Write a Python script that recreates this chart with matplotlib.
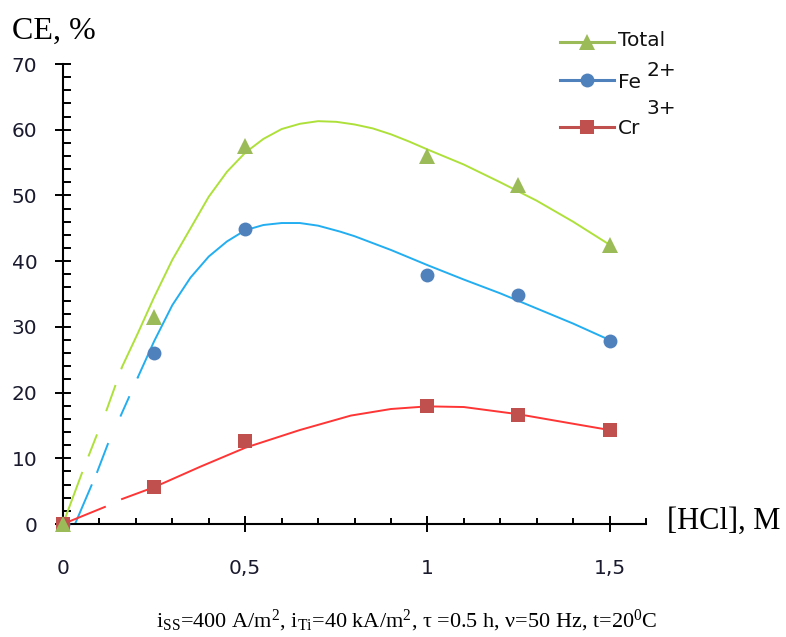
import numpy as np
import matplotlib
matplotlib.use("Agg")
import matplotlib.pyplot as plt
from matplotlib.lines import Line2D
from matplotlib.ticker import MultipleLocator, FixedLocator, FixedFormatter

plt.rcParams['font.family'] = ['DejaVu Sans']
plt.rcParams['mathtext.fontset'] = 'custom'
plt.rcParams['mathtext.rm'] = 'Liberation Serif'
plt.rcParams['mathtext.it'] = 'Liberation Serif:italic'
plt.rcParams['lines.scale_dashes'] = False

# measured points
hcl = [0, 0.25, 0.5, 1.0, 1.25, 1.5]
ce_total = [0, 31.5, 57.5, 56.0, 51.6, 42.5]
ce_fe = [0, 26.0, 44.9, 37.9, 34.9, 27.9]
ce_cr = [0, 5.6, 12.6, 18.0, 16.6, 14.3]

# trend lines (dashed lead-in + solid part)
total_lead_x = [0, 0.055, 0.12, 0.162]
total_lead_y = [0, 8.2, 17.4, 23.9]
total_x = [0.162, 0.206, 0.25, 0.3, 0.35, 0.4, 0.45, 0.5, 0.55, 0.6, 0.65, 0.7, 0.75,
           0.8, 0.85, 0.9, 0.95, 1.0, 1.1, 1.2, 1.3, 1.4, 1.5]
total_y = [23.9, 29.1, 34.5, 40.2, 45.0, 49.8, 53.6, 56.5, 58.6, 60.1, 60.9, 61.3, 61.2,
           60.8, 60.2, 59.3, 58.2, 57.0, 54.7, 52.0, 49.2, 46.0, 42.5]

fe_lead_x = [0.033, 0.093, 0.124, 0.157, 0.206]
fe_lead_y = [0, 7.8, 12.3, 16.3, 22.4]
fe_x = [0.206, 0.25, 0.3, 0.35, 0.4, 0.45, 0.5, 0.55, 0.6, 0.65, 0.7, 0.76, 0.8, 0.9,
        1.0, 1.1, 1.2, 1.3, 1.4, 1.5]
fe_y = [22.4, 27.8, 33.3, 37.5, 40.7, 43.0, 44.7, 45.5, 45.8, 45.8, 45.4, 44.5, 43.8, 41.7,
        39.4, 37.2, 35.1, 32.8, 30.5, 28.0]

cr_lead_x = [0, 0.115]
cr_lead_y = [0, 2.6]
cr_x = [0.162, 0.25, 0.376, 0.5, 0.65, 0.79, 0.9, 1.0, 1.1, 1.25, 1.385, 1.5]
cr_y = [3.8, 5.6, 8.7, 11.6, 14.3, 16.5, 17.5, 17.9, 17.8, 16.7, 15.4, 14.3]

x_ticks = [0, 0.5, 1.0, 1.5]
x_tick_labels = ['0', '0,5', '1', '1,5']
y_ticks = [0, 10, 20, 30, 40, 50, 60, 70]

W, H = 786, 637
fig = plt.figure(figsize=(W / 100, H / 100), dpi=100)


def px(x, y):
    return x / W, 1 - y / H


ax = fig.add_axes([63 / W, 1 - 524 / H, (646 - 63) / W, (524 - 64) / H])

c_tot_line, c_tot_mk = '#aee03a', '#9bbb59'
c_fe_line, c_fe_mk = '#22aef0', '#4f81bd'
c_cr_line, c_cr_mk = '#ff3535', '#c0504d'

# trend lines
ax.plot(total_lead_x, total_lead_y, color=c_tot_line, lw=1.4, ls=(0, (40, 12, 17, 18, 20, 12)), clip_on=False)
ax.plot(total_x, total_y, color=c_tot_line, lw=1.4)
ax.plot(fe_lead_x, fe_lead_y, color=c_fe_line, lw=1.4, ls=(0, (31, 9, 23, 21, 16, 14)), clip_on=False)
ax.plot(fe_x, fe_y, color=c_fe_line, lw=1.4)
ax.plot(cr_lead_x, cr_lead_y, color=c_cr_line, lw=1.4, clip_on=False)
ax.plot(cr_x, cr_y, color=c_cr_line, lw=1.4)

# markers
ax.plot(hcl, ce_fe, 'o', color=c_fe_mk, ms=10, mew=0, clip_on=False, zorder=4)
ax.plot(hcl, ce_cr, 's', color=c_cr_mk, ms=10, mew=0, clip_on=False, zorder=5)
ax.plot(hcl, ce_total, '^', color=c_tot_mk, ms=11, mew=0, clip_on=False, zorder=6)

ax.set_xlim(0, 1.6)
ax.set_ylim(0, 70)
for s in ['top', 'right']:
    ax.spines[s].set_visible(False)
for s in ['left', 'bottom']:
    ax.spines[s].set_linewidth(1.5)
    ax.spines[s].set_color('black')

ax.xaxis.set_major_locator(FixedLocator(x_ticks))
ax.xaxis.set_major_formatter(FixedFormatter(x_tick_labels))
ax.xaxis.set_minor_locator(MultipleLocator(0.1))
ax.yaxis.set_major_locator(FixedLocator(y_ticks))
ax.yaxis.set_minor_locator(MultipleLocator(2))

ax.tick_params(axis='both', which='major', direction='inout', length=12, width=1.4,
               labelsize=14.5, labelcolor='#1a1a2e')
ax.tick_params(axis='x', which='major', pad=19)
ax.tick_params(axis='y', which='major', pad=12.5)
ax.tick_params(axis='x', which='minor', direction='in', length=4, width=1.4)
ax.tick_params(axis='y', which='minor', direction='in', length=5.5, width=1.4)

# axis titles
fig.text(*px(12, 31), 'CE, %', family='Liberation Serif', fontsize=23, ha='left', va='center')
fig.text(*px(667, 521), '[HCl], M', family='Liberation Serif', fontsize=22, ha='left', va='center')

# caption
caption = (r'i$_{\mathrm{SS}}$=400 A/m$^{\mathrm{2}}$, i$_{\mathrm{Ti}}$=40 kA/m$^{\mathrm{2}}$, '
           r'τ =0.5 h, ν=50 Hz, t=20$^{\mathrm{0}}$C')
fig.text(*px(407, 621), caption, family='Liberation Serif', fontsize=16, ha='center', va='center')

# legend drawn by hand
legend_rows = [
    ('Total', None, c_tot_mk, '^', 11, 42, 40, None),
    ('Fe', '2+', c_fe_mk, 'o', 10, 80, 83, 70),
    ('Cr', '3+', c_cr_mk, 's', 10, 127, 128, 109),
]
for label, sup, col, mk, ms, ly, ty, sy in legend_rows:
    x0, y0 = px(560, ly)
    x1, _ = px(614, ly)
    xm, _ = px(587, ly)
    fig.add_artist(Line2D([x0, x1], [y0, y0], color=col, lw=2.2, transform=fig.transFigure))
    fig.add_artist(Line2D([xm], [y0], marker=mk, ms=ms, color=col, mew=0, transform=fig.transFigure))
    fig.text(*px(618, ty), label, fontsize=14.5, ha='left', va='center', color='#111111')
    if sup:
        fig.text(*px(646, sy), sup, fontsize=14.5, ha='left', va='center', color='#111111')

fig.savefig('out.png', dpi=100)
